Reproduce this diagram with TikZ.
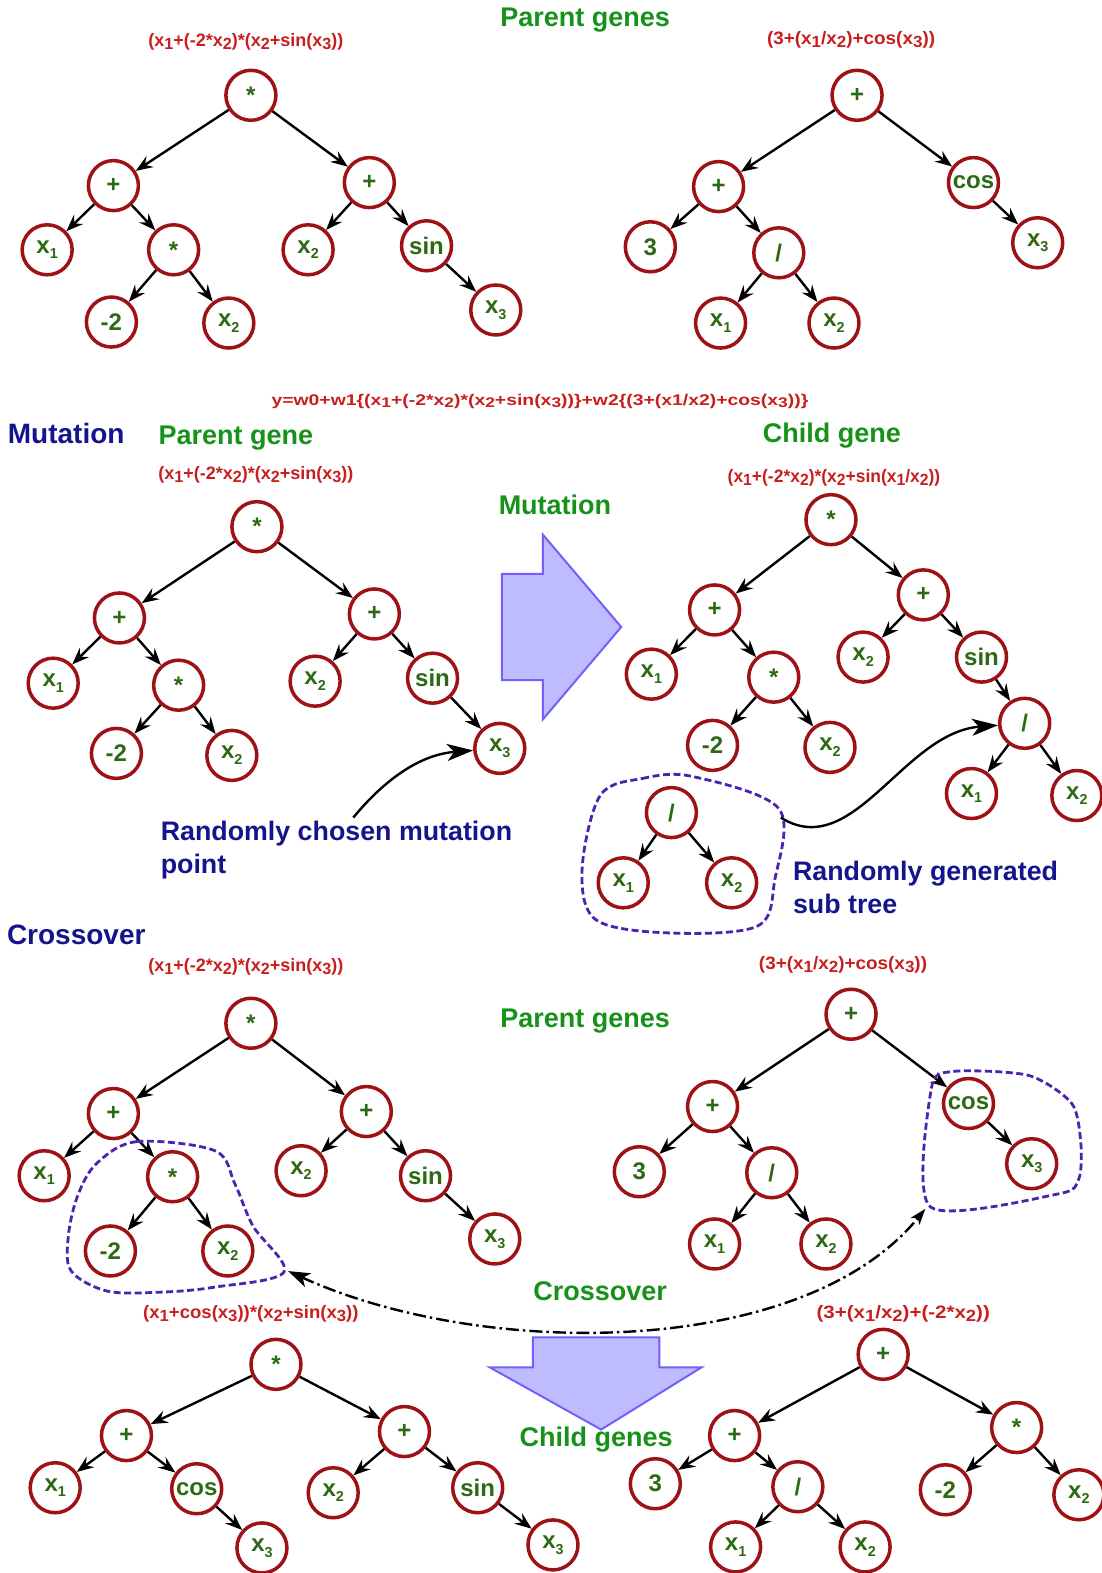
\documentclass[tikz,border=0pt]{standalone}
\usepackage{fontspec}
\setmainfont{Liberation Sans}
\usetikzlibrary{arrows.meta}

\definecolor{ringred}{RGB}{158,18,22}
\definecolor{leafgreen}{RGB}{45,105,20}
\definecolor{headgreen}{RGB}{22,145,25}
\definecolor{formred}{RGB}{200,30,30}
\definecolor{secnavy}{RGB}{20,20,140}
\definecolor{blobblue}{RGB}{75,35,175}
\definecolor{arrowfill}{RGB}{190,188,255}
\definecolor{arrowline}{RGB}{115,95,250}

% x with subscript, in nodes and in formulas
\newcommand{\xn}[1]{x\raisebox{-0.45ex}{\scalebox{0.6}{#1}}}
\newcommand{\xf}[1]{x\raisebox{-0.3ex}{\scalebox{0.9}{#1}}}

\tikzset{
  gene/.style={circle, draw=ringred, line width=3.5pt, minimum size=50pt, inner sep=0pt,
    text=leafgreen, font=\fontsize{24}{24}\selectfont\bfseries},
  link/.style={-{Stealth[length=17pt,width=13pt,inset=6pt]}, line width=2.4pt},
  pointer/.style={-{Stealth[length=26pt,width=17pt,inset=7pt]}, line width=2.4pt},
  exchange/.style={{Stealth[length=22pt,width=15pt,inset=6pt]}-{Stealth[length=16pt,width=11pt,inset=4pt]},
    line width=2.4pt, dash pattern=on 13pt off 4pt on 2.5pt off 4pt},
  formula/.style={text=formred, font=\fontsize{18}{18}\selectfont\bfseries},
  header/.style={text=headgreen, font=\fontsize{27}{27}\selectfont\bfseries},
  section/.style={text=secnavy, font=\fontsize{28}{28}\selectfont\bfseries},
  remark/.style={text=secnavy, font=\fontsize{26.8}{33}\selectfont\bfseries, align=left,
    anchor=north west, inner sep=0pt},
  blob/.style={draw=blobblue, line width=2.8pt, dash pattern=on 7pt off 3.5pt},
  bigarrow/.style={fill=arrowfill, draw=arrowline, line width=2pt},
}

\begin{document}
\begin{tikzpicture}[x=1.0036pt, y=-1.0032pt]
\useasboundingbox (0,0) rectangle (1098,1568);

% parent genes
\node[header] (hdtop) at (583,20) {Parent genes};
\node[formula] (fta) at (245,42) {(\xf1+(-2*\xf2)*(\xf2+sin(\xf3))};
\node[formula] (ftb) at (848,40) {\scalebox{1.05}[1]{(3+(\xf1/\xf2)+cos(\xf3))}};

\node[gene] (ta0) at (250,95) {*};
\node[gene] (ta1) at (113,185) {+};
\node[gene] (ta2) at (368,182) {+};
\node[gene] (ta3) at (47,249) {\xn1};
\node[gene] (ta4) at (173,249) {*};
\node[gene] (ta5) at (307,249) {\xn2};
\node[gene] (ta6) at (425,245) {sin};
\node[gene] (ta7) at (111,321) {-2};
\node[gene] (ta8) at (228,322) {\xn2};
\node[gene] (ta9) at (494,309) {\xn3};
\foreach \a/\b in {ta0/ta1,ta0/ta2,ta1/ta3,ta1/ta4,ta2/ta5,ta2/ta6,ta4/ta7,ta4/ta8,ta6/ta9}
  \draw[link] (\a) -- (\b);

\node[gene] (tb0) at (854,95) {+};
\node[gene] (tb1) at (716,186) {+};
\node[gene] (tb2) at (970,182) {cos};
\node[gene] (tb3) at (648,246) {3};
\node[gene] (tb4) at (776,252) {/};
\node[gene] (tb5) at (1034,242) {\xn3};
\node[gene] (tb6) at (718,322) {\xn1};
\node[gene] (tb7) at (831,322) {\xn2};
\foreach \a/\b in {tb0/tb1,tb0/tb2,tb1/tb3,tb1/tb4,tb2/tb5,tb4/tb6,tb4/tb7}
  \draw[link] (\a) -- (\b);

\node[formula, font=\fontsize{15.5}{15.5}\selectfont\bfseries] (eq) at (538,400)
  {\scalebox{1.25}[1]{y=w0+w1\{(\xf1+(-2*\xf2)*(\xf2+sin(\xf3))\}+w2\{(3+(x1/x2)+cos(\xf3))\}}};

% mutation
\node[section] (mut) at (66,432) {Mutation};
\node[header] (hdpar) at (235,437) {Parent gene};
\node[formula] (fma) at (255,473) {(\xf1+(-2*\xf2)*(\xf2+sin(\xf3))};

\node[gene] (ma0) at (256,525) {*};
\node[gene] (ma1) at (119,616) {+};
\node[gene] (ma2) at (373,612) {+};
\node[gene] (ma3) at (53,681) {\xn1};
\node[gene] (ma4) at (178,683) {*};
\node[gene] (ma5) at (314,679) {\xn2};
\node[gene] (ma6) at (431,676) {sin};
\node[gene] (ma7) at (116,751) {-2};
\node[gene] (ma8) at (231,753) {\xn2};
\node[gene] (ma9) at (498,746) {\xn3};
\foreach \a/\b in {ma0/ma1,ma0/ma2,ma1/ma3,ma1/ma4,ma2/ma5,ma2/ma6,ma4/ma7,ma4/ma8,ma6/ma9}
  \draw[link] (\a) -- (\b);

\node[header] (hdmut) at (553,503) {Mutation};
\draw[bigarrow] (500,572) -- (541,572) -- (541,533) -- (619,625) -- (541,717) -- (541,678) -- (500,678) -- cycle;

\node[header] (hdchild) at (829,434) {Child gene};
\node[formula] (fmb) at (831,476) {\scalebox{0.97}[1]{(\xf1+(-2*\xf2)*(\xf2+sin(\xf1/\xf2))}};

\node[gene] (mb0) at (828,518) {*};
\node[gene] (mb1) at (712,608) {+};
\node[gene] (mb2) at (920,593) {+};
\node[gene] (mb3) at (649,672) {\xn1};
\node[gene] (mb4) at (771,675) {*};
\node[gene] (mb5) at (860,655) {\xn2};
\node[gene] (mb6) at (978,655) {sin};
\node[gene] (mb7) at (710,743) {-2};
\node[gene] (mb8) at (827,745) {\xn2};
\node[gene] (mb9) at (1021,721) {/};
\node[gene] (mb10) at (968,791) {\xn1};
\node[gene] (mb11) at (1073,793) {\xn2};
\foreach \a/\b in {mb0/mb1,mb0/mb2,mb1/mb3,mb1/mb4,mb4/mb7,mb4/mb8,mb2/mb5,mb2/mb6,mb6/mb9,mb9/mb10,mb9/mb11}
  \draw[link] (\a) -- (\b);

% random sub tree
\node[gene] (ms0) at (669,810) {/};
\node[gene] (ms1) at (621,880) {\xn1};
\node[gene] (ms2) at (729,880) {\xn2};
\draw[link] (ms0) -- (ms1);
\draw[link] (ms0) -- (ms2);
\draw[blob] plot[smooth cycle, tension=0.55] coordinates {(598,793) (640,776) (690,774) (776,806)
  (772,877) (755,923) (668,930) (594,917) (580,867)};
\coordinate (msout) at (778,815);
\draw[pointer] (msout) .. controls (850,860) and (900,730) .. (mb9);
\node[remark] (rgen) at (790,858) {Randomly generated\\sub tree};

\coordinate (mpoint) at (352,815);
\draw[pointer] (mpoint) .. controls (385,775) and (420,752) .. (ma9);
\node[remark] (rpick) at (160,818) {Randomly chosen mutation\\point};

% crossover
\node[section] (cro) at (76,932) {Crossover};
\node[formula] (fca) at (245,964) {(\xf1+(-2*\xf2)*(\xf2+sin(\xf3))};

\node[gene] (ca0) at (250,1020) {*};
\node[gene] (ca1) at (113,1110) {+};
\node[gene] (ca2) at (365,1108) {+};
\node[gene] (ca3) at (44,1172) {\xn1};
\node[gene] (ca4) at (172,1173) {*};
\node[gene] (ca5) at (300,1167) {\xn2};
\node[gene] (ca6) at (424,1172) {sin};
\node[gene] (ca7) at (110,1247) {-2};
\node[gene] (ca8) at (227,1247) {\xn2};
\node[gene] (ca9) at (493,1235) {\xn3};
\foreach \a/\b in {ca0/ca1,ca0/ca2,ca1/ca3,ca1/ca4,ca2/ca5,ca2/ca6,ca4/ca7,ca4/ca8,ca6/ca9}
  \draw[link] (\a) -- (\b);

\node[header] (hdpars) at (583,1018) {Parent genes};
\node[formula] (fcb) at (840,962) {\scalebox{1.05}[1]{(3+(\xf1/\xf2)+cos(\xf3))}};

\node[gene] (cb0) at (848,1011) {+};
\node[gene] (cb1) at (710,1103) {+};
\node[gene] (cb2) at (965,1100) {cos};
\node[gene] (cb3) at (637,1168) {3};
\node[gene] (cb4) at (769,1169) {/};
\node[gene] (cb5) at (1028,1160) {\xn3};
\node[gene] (cb6) at (712,1240) {\xn1};
\node[gene] (cb7) at (823,1240) {\xn2};
\foreach \a/\b in {cb0/cb1,cb0/cb2,cb1/cb3,cb1/cb4,cb2/cb5,cb4/cb6,cb4/cb7}
  \draw[link] (\a) -- (\b);

\draw[blob] plot[smooth cycle, tension=0.55] coordinates {(96,1160) (136,1138) (214,1147) (234,1180)
  (252,1222) (283,1268) (214,1283) (161,1288) (107,1287) (71,1267) (68,1233) (77,1193)};
\draw[blob] plot[smooth cycle, tension=0.45] coordinates {(927,1203) (928,1085) (950,1068) (1025,1072)
  (1068,1100) (1077,1140) (1075,1175) (1055,1190)};
\coordinate (cain) at (287,1267);
\coordinate (cbin) at (922,1205);
\draw[exchange] (cain) .. controls (480,1355) and (800,1355) .. (cbin);

\node[header] (hdcross) at (598,1287) {Crossover};
\draw[bigarrow] (531,1333) -- (657,1333) -- (657,1363) -- (699,1363) -- (599,1425) -- (488,1363) -- (531,1363) -- cycle;
\node[header] (hdkids) at (594,1435) {Child genes};

% child genes
\node[formula] (fda) at (250,1310) {\scalebox{1.03}[1]{(\xf1+cos(\xf3))*(\xf2+sin(\xf3))}};
\node[formula] (fdb) at (900,1310) {\scalebox{1.14}[1]{(3+(\xf1/\xf2)+(-2*\xf2))}};

\node[gene] (da0) at (275,1360) {*};
\node[gene] (da1) at (126,1431) {+};
\node[gene] (da2) at (403,1427) {+};
\node[gene] (da3) at (55,1483) {\xn1};
\node[gene] (da4) at (196,1484) {cos};
\node[gene] (da5) at (332,1488) {\xn2};
\node[gene] (da6) at (476,1483) {sin};
\node[gene] (da7) at (261,1543) {\xn3};
\node[gene] (da8) at (551,1540) {\xn3};
\foreach \a/\b in {da0/da1,da0/da2,da1/da3,da1/da4,da4/da7,da2/da5,da2/da6,da6/da8}
  \draw[link] (\a) -- (\b);

\node[gene] (db0) at (880,1350) {+};
\node[gene] (db1) at (732,1431) {+};
\node[gene] (db2) at (1013,1423) {*};
\node[gene] (db3) at (653,1479) {3};
\node[gene] (db4) at (795,1482) {/};
\node[gene] (db5) at (942,1485) {-2};
\node[gene] (db6) at (1075,1490) {\xn2};
\node[gene] (db7) at (733,1542) {\xn1};
\node[gene] (db8) at (862,1542) {\xn2};
\foreach \a/\b in {db0/db1,db0/db2,db1/db3,db1/db4,db4/db7,db4/db8,db2/db5,db2/db6}
  \draw[link] (\a) -- (\b);
\end{tikzpicture}
\end{document}
